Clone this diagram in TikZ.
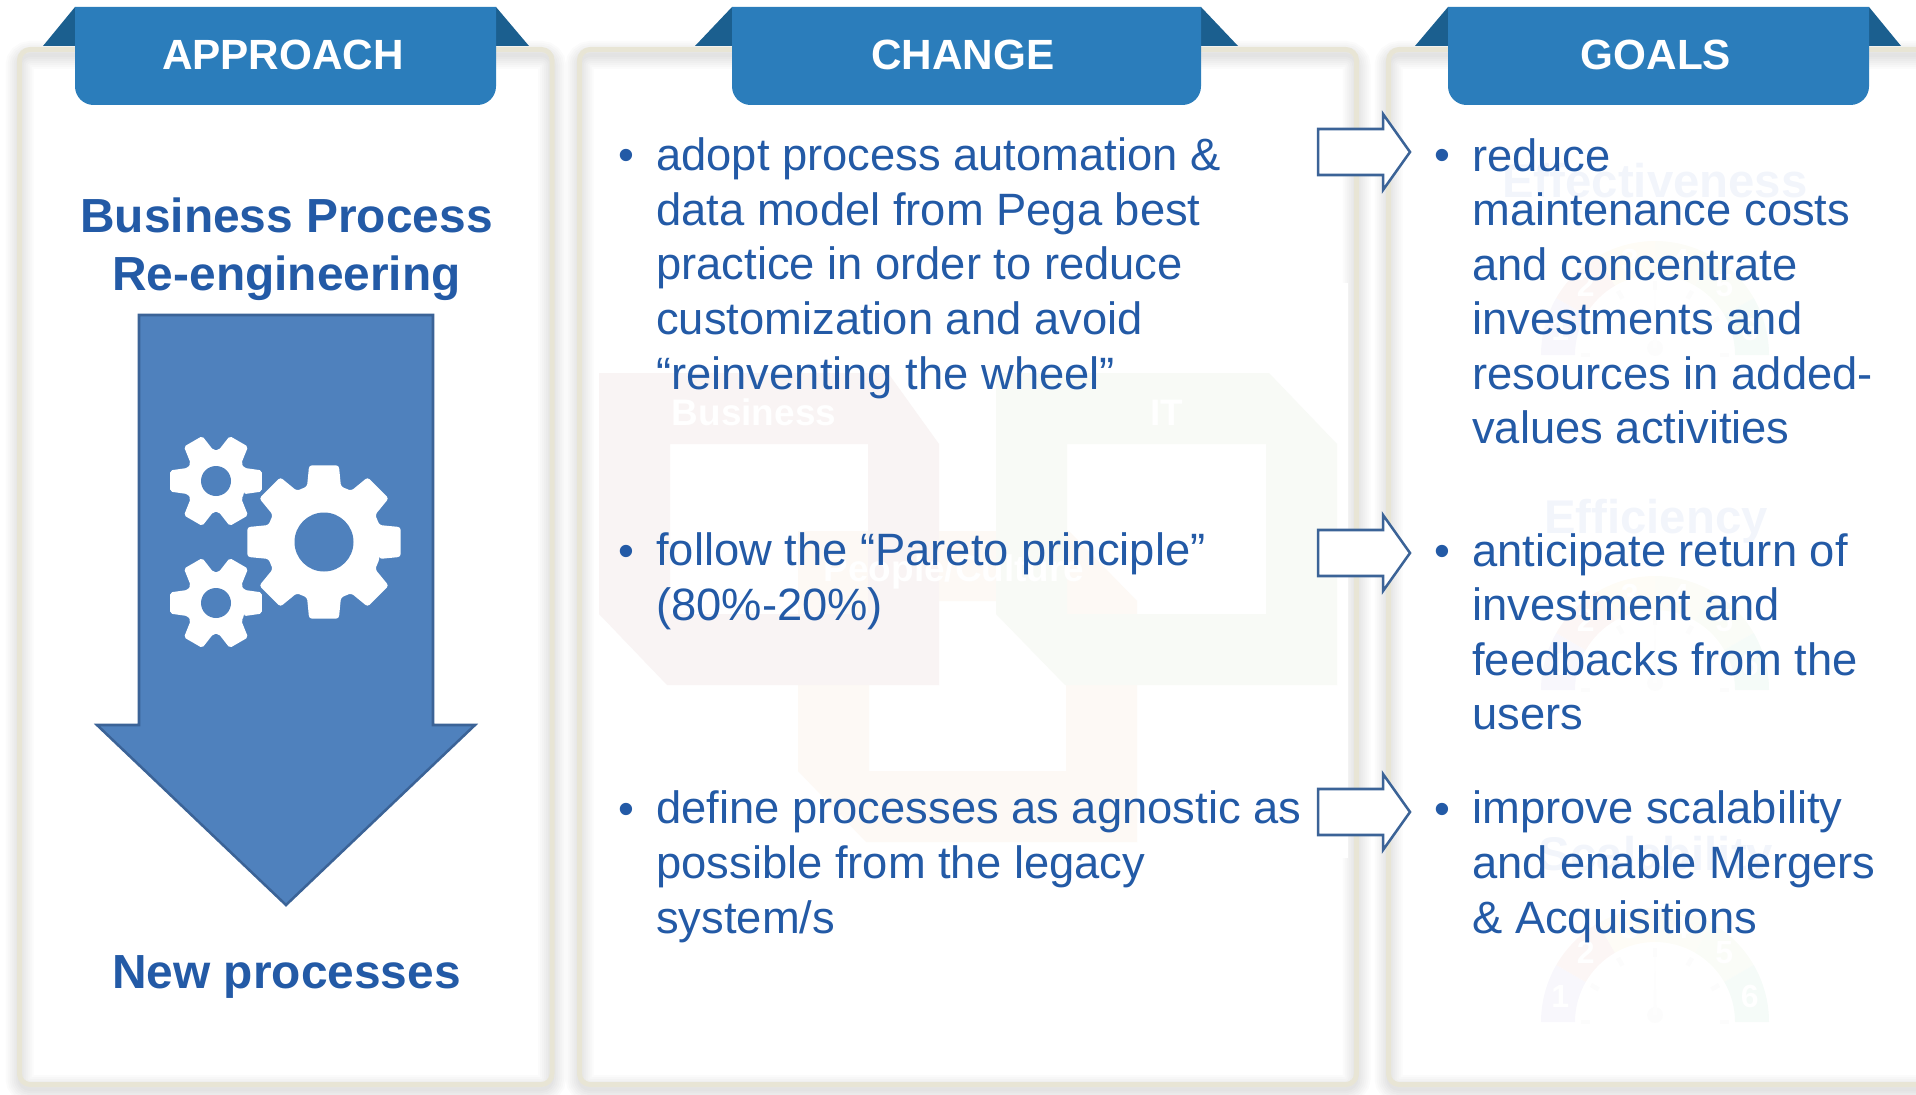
\documentclass[tikz,border=0pt]{standalone}
\usepackage{fontspec}
\setmainfont{Liberation Sans}
\usepackage{xcolor}
\definecolor{tabblue}{HTML}{2B7DBB}
\definecolor{folddark}{HTML}{1B5F8F}
\definecolor{textblue}{HTML}{235AA6}
\definecolor{rim}{HTML}{E8E5D5}
\definecolor{arrowfill}{HTML}{4F81BD}
\definecolor{arrowline}{HTML}{3B6397}
\definecolor{wmblue}{HTML}{F2F5FB}
\definecolor{wmred}{HTML}{F9F4F4}
\definecolor{wmgreen}{HTML}{F8FAF6}
\definecolor{wmsand}{HTML}{FDF9F5}
\definecolor{wmtick}{HTML}{FCFCFC}
\tikzset{
	tabtitle/.style={anchor=base, inner sep=0pt, text=white, font=\fontsize{31.7}{36}\selectfont\bfseries},
	headline/.style={anchor=base, inner sep=0pt, align=center, text=textblue, font=\fontsize{35.9}{43.5}\selectfont\bfseries},
	body/.style={anchor=base west, inner sep=0pt, align=left, text=textblue, font=\fontsize{34}{40.9}\selectfont},
	wmtext/.style={anchor=base, inner sep=0pt, font=\fontsize{35.5}{40}\selectfont\bfseries},
	wmlabel/.style={anchor=base, inner sep=0pt, text=white, font=\fontsize{27.7}{32}\selectfont\bfseries},
	hollow/.style={draw=arrowline, fill=white, line width=1.9pt, line join=miter},
}
\begin{document}
\begin{tikzpicture}[x=0.75pt, y=-0.75pt]
	\useasboundingbox (0, 0) rectangle (1916, 1095);
	\clip (0, 0) rectangle (1916, 1095);
	\foreach \pl/\pr in {19.5/552, 579.5/1356.5, 1388.5/1930} {
		\foreach \w in {4, 8, ..., 28}
			\draw[black, opacity=0.014, line width=\w*0.75pt, rounded corners=8] (\pl, 55) rectangle (\pr, 1089);
		\draw[rim, line width=3.75pt, rounded corners=8] (\pl, 49.5) rectangle (\pr, 1084.5);
	}
	\fill[white] (597, 283) rectangle (1348, 858);
	\fill[wmsand, even odd rule] (798, 531) -- (1069, 531) -- (1137, 601) -- (1137, 842) -- (866, 842) -- (798, 771) -- cycle (869, 601) rectangle (1066, 771);
	\fill[wmred, even odd rule] (599, 373) -- (888, 373) -- (939, 444) -- (939, 685) -- (667, 685) -- (599, 614) -- cycle (670, 444) rectangle (868, 614);
	\fill[wmgreen, even odd rule] (996, 373) -- (1269, 373) -- (1337, 444) -- (1337, 685) -- (1065, 685) -- (996, 614) -- cycle (1067, 444) rectangle (1266, 614);
	\node[wmlabel] (wm1) at (754, 425) {Business};
	\node[wmlabel] (wm2) at (1167, 425) {IT};
	\node[wmlabel] (wm3) at (954, 581) {People/Culture};
	\node[wmtext, text=wmblue] (wm4) at (1655, 198) {Effectiveness};
	\node[wmtext, text=wmblue] (wm5) at (1656, 533) {Efficiency};
	\node[wmtext, text=wmblue] (wm6) at (1656, 870) {Scalability};
	\foreach \gy in {355, 690, 1022} {
		\begin{scope}[shift={(1655, \gy)}, x=0.75pt, y=0.75pt]
			\foreach \a/\c/\n in {150/F8F7FC/1, 120/FCF6F5/2, 90/FEFCF6/3, 60/FCFCF7/4, 30/FAFCF7/5, 0/F5FBF8/6} {
				\definecolor{segcolor}{HTML}{\c}
				\fill[segcolor] (\a:114) arc[start angle=\a, delta angle=30, radius=114] -- (\a+30:80) arc[start angle=\a+30, delta angle=-30, radius=80] -- cycle;
				\node[text=white, inner sep=0pt, font=\fontsize{24}{28}\selectfont\bfseries] (num\n) at (\a+15:98) {\n};
			}
			\foreach \a in {0, 30, ..., 180}
				\draw[wmtick, line width=3.5pt] (\a:65) -- (\a:74);
			\fill[wmtick] (0, 7) circle (8);
			\fill[wmtick!60!white] (-2, 7) -- (2, 7) -- (0, 75) -- cycle;
		\end{scope}
	}
	\foreach \tl/\tr/\fl/\fr/\cx/\lab/\nm in {75/496/43/529/283/APPROACH/t1, 732/1201/695/1238/963/CHANGE/t2, 1448/1869/1415/1901/1656/GOALS/t3} {
		\fill[folddark] (\tl, 7) -- (\fl, 46) -- (\tl, 46) -- cycle;
		\fill[folddark] (\tr, 7) -- (\fr, 46) -- (\tr, 46) -- cycle;
		\fill[tabblue] (\tl, 7) -- (\tr, 7) [rounded corners=14] -- (\tr, 105) -- (\tl, 105) [sharp corners] -- cycle;
		\node[tabtitle] (\nm) at (\cx, 70) {\lab};
	}
	\node[headline] (h1) at (286.5, 290) {Business Process\\Re-engineering};
	\draw[fill=arrowfill, draw=arrowline, line width=1.9pt] (139, 315) -- (433, 315) -- (433, 725) -- (475, 725) -- (286, 905) -- (97, 725) -- (139, 725) -- cycle;
	\node[headline] (h2) at (286.5, 988) {New processes};
	\begin{scope}[shift={(324, 542)}, x=0.75pt, y=0.75pt]
		\fill[white, rounded corners=2] (-17:58) \foreach \a in {0, 45, ..., 315} { -- (\a-17:58) -- (\a-11:78) -- (\a+11:78) -- (\a+17:58) } -- cycle;
		\fill[arrowfill] (0, 0) circle (29.5);
	\end{scope}
	\foreach \gy in {481, 603} {
		\begin{scope}[shift={(216, \gy)}, x=0.75pt, y=0.75pt]
			\fill[white, rounded corners=1.5] (-25:31) \foreach \a in {0, 60, ..., 300} { -- (\a-25:31) -- (\a-13:47) -- (\a+13:47) -- (\a+25:31) } -- cycle;
			\fill[arrowfill] (0, 0) circle (15);
		\end{scope}
	}
	\foreach \ay in {152, 553, 812}
		\draw[hollow] (1318, \ay-23) -- (1383, \ay-23) -- (1383, \ay-38) -- (1410, \ay) -- (1383, \ay+38) -- (1383, \ay+23) -- (1318, \ay+23) -- cycle;
	\foreach \bx/\by/\nm in {618/171/b1, 618/566/b2, 618/824/b3, 1434/171/b4, 1434/566/b5, 1434/824/b6}
		\node[body] (\nm) at (\bx, \by) {•};
	\node[body] (c1) at (656, 389) {adopt process automation \&\\data model from Pega best\\practice in order to reduce\\customization and avoid\\“reinventing the wheel”};
	\node[body] (c2) at (656, 620.5) {follow the “Pareto principle”\\(80\%-20\%)};
	\node[body] (c3) at (656, 933) {define processes as agnostic as\\possible from the legacy\\system/s};
	\node[body] (g1) at (1472, 443.7) {reduce\\maintenance costs\\and concentrate\\investments and\\resources in added-\\values activities};
	\node[body] (g2) at (1472, 729.6) {anticipate return of\\investment and\\feedbacks from the\\users};
	\node[body] (g3) at (1472, 933) {improve scalability\\and enable Mergers\\\& Acquisitions};
\end{tikzpicture}
\end{document}
